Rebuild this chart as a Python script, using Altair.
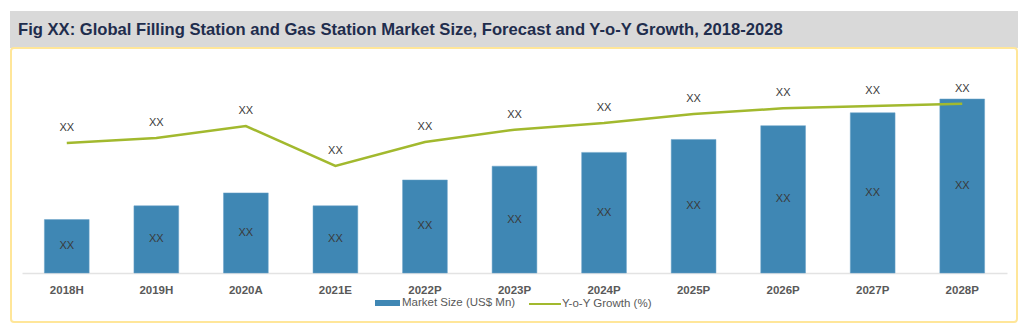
import altair as alt
import pandas as pd

categories = ["2018H", "2019H", "2020A", "2021E", "2022P", "2023P",
              "2024P", "2025P", "2026P", "2027P", "2028P"]
market_size = [310, 390, 465, 390, 540, 620, 700, 775, 855, 930, 1010]
yoy_growth = [5.8, 6.03, 6.56, 4.78, 5.85, 6.4, 6.7, 7.1, 7.35, 7.46, 7.56]
bar_labels = ["XX"] * len(categories)
line_labels = ["XX"] * len(categories)

TITLE = "Fig XX: Global Filling Station and Gas Station Market Size, Forecast and Y-o-Y Growth, 2018-2028"
BAR_NAME = "Market Size (US$ Mn)"
LINE_NAME = "Y-o-Y Growth (%)"

df = pd.DataFrame({
    "cat": categories,
    "market": market_size,
    "growth": yoy_growth,
    "blabel": bar_labels,
    "llabel": line_labels,
})
df["bar_series"] = BAR_NAME
df["line_series"] = LINE_NAME

W, H = 985, 224
FONT = "Liberation Sans"

xenc = alt.X("cat:N", sort=categories, title=None,
             scale=alt.Scale(paddingInner=0.5, paddingOuter=0.25),
             axis=alt.Axis(labelAngle=0, labelFont=FONT, labelFontSize=11.5,
                           labelFontWeight="bold", labelColor="#595959",
                           domainColor="#e3e3e3", domainWidth=1.5, ticks=False,
                           labelPadding=11, grid=False))

one = pd.DataFrame({"k": [0]})

title_bg = alt.Chart(one).mark_rect(color="#d9d9d9").encode(
    x=alt.value(-12), x2=alt.value(996), y=alt.value(-38), y2=alt.value(-1))
border = alt.Chart(one).mark_rect(fill=None, stroke="#ffe699", strokeWidth=2,
                                  cornerRadius=3).encode(
    x=alt.value(-11), x2=alt.value(995), y=alt.value(-1), y2=alt.value(273))
title_txt = alt.Chart(one).mark_text(text=TITLE, align="left", baseline="alphabetic",
                                     font=FONT, fontSize=16.6, fontWeight="bold",
                                     color="#1f2d4d").encode(
    x=alt.value(-4), y=alt.value(-14))

yb = alt.Y("market:Q", scale=alt.Scale(domain=[0, 1300]), axis=None)
bars = alt.Chart(df).mark_bar(color="#3f87b4", stroke="#6aa3c8", strokeWidth=0.5).encode(
    x=xenc, y=yb,
    color=alt.Color("bar_series:N", scale=alt.Scale(range=["#3f87b4"]),
                    legend=alt.Legend(title=None, orient="none", legendX=353, legendY=241.5,
                                      symbolType="M-1,-0.24H1V0.24H-1Z", symbolSize=625,
                                      symbolStrokeWidth=0, labelFont=FONT, labelFontSize=11.5,
                                      labelColor="#595959", labelOffset=2, padding=0)))
bar_text = alt.Chart(df).transform_calculate(mid="datum.market / 2").mark_text(
    font=FONT, fontSize=11, color="#3a3a3a").encode(
    x=alt.X("cat:N", sort=categories), y=alt.Y("mid:Q", scale=alt.Scale(domain=[0, 1300]), axis=None),
    text="blabel:N")

yl = alt.Y("growth:Q", scale=alt.Scale(domain=[0, 10]), axis=None)
line = alt.Chart(df).mark_line(strokeWidth=2.5).encode(
    x=alt.X("cat:N", sort=categories), y=yl,
    stroke=alt.Stroke("line_series:N", scale=alt.Scale(range=["#a2b92e"]),
                      legend=alt.Legend(title=None, orient="none", legendX=506, legendY=238,
                                        symbolType="stroke", symbolSize=1024,
                                        symbolStrokeWidth=2, labelFont=FONT, labelFontSize=11.5,
                                        labelColor="#595959", labelOffset=0, padding=0)))
line_text = alt.Chart(df).mark_text(font=FONT, fontSize=11, color="#3a3a3a", dy=-15).encode(
    x=alt.X("cat:N", sort=categories), y=yl, text="llabel:N")

bar_layer = alt.layer(bars, bar_text)
line_layer = alt.layer(line, line_text)

chart = alt.layer(title_bg, border, title_txt, bar_layer, line_layer).resolve_scale(
    y="independent", color="independent"
).properties(
    width=W, height=H,
    autosize=alt.AutoSizeParams(type="none"),
    padding={"left": 22, "top": 49, "right": 17, "bottom": 53},
    background="white",
).configure_view(stroke=None)

chart.save("out.html", embed_options={"renderer": "svg", "actions": False})
